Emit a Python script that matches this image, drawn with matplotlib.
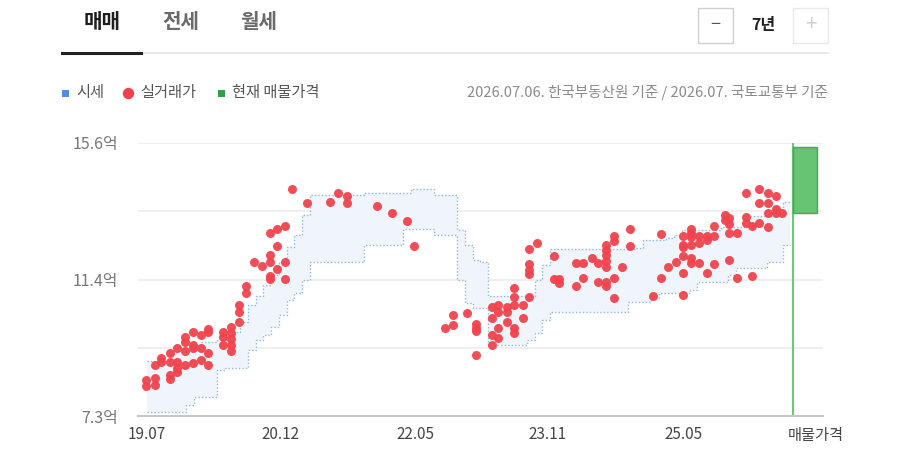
import numpy as np
import matplotlib
matplotlib.use('Agg')
import matplotlib.pyplot as plt
from matplotlib.lines import Line2D
from matplotlib.patches import Rectangle

plt.rcParams['font.family'] = ['Noto Sans CJK KR', 'DejaVu Sans']

# months counted from 2019.07
months = list(range(84))
sise_high = [8.97, 8.97, 8.97, 9.25, 9.34, 9.34, 9.46, 9.55, 9.55, 9.61,
             9.76, 9.85, 10.16, 10.67, 10.95, 11.28, 11.59, 11.98, 12.44, 12.80,
             13.41, 14.02, 14.02, 14.02, 14.02, 14.02, 14.02, 14.02, 14.08, 14.08,
             14.08, 14.08, 14.08, 14.08, 14.20, 14.20, 14.20, 14.02, 14.02, 14.02,
             12.95, 12.50, 12.04, 11.98, 10.95, 10.95, 10.95, 10.95, 10.95, 10.95,
             11.43, 11.89, 12.38, 12.38, 12.38, 12.38, 12.38, 12.38, 12.38, 12.38,
             12.38, 12.38, 12.38, 12.41, 12.65, 12.65, 12.65, 12.71, 12.80, 12.95,
             12.95, 12.95, 12.95, 12.95, 13.05, 13.05, 13.05, 13.38, 13.38, 13.38,
             13.38, 13.38, 13.81, 13.81]
sise_low = [7.42, 7.42, 7.42, 7.42, 7.42, 7.63, 7.88, 7.88, 7.88, 8.70,
            8.76, 8.76, 8.76, 9.31, 9.61, 9.76, 10.01, 10.37, 10.83, 11.04,
            11.43, 11.98, 11.98, 11.98, 11.98, 11.98, 11.98, 11.98, 12.50, 12.50,
            12.50, 12.50, 12.50, 12.99, 12.99, 12.99, 12.99, 12.80, 12.80, 12.80,
            11.43, 10.74, 10.58, 10.58, 9.46, 9.46, 9.46, 9.46, 9.46, 9.61,
            9.82, 10.22, 10.46, 10.46, 10.46, 10.46, 10.46, 10.46, 10.46, 10.46,
            10.46, 10.46, 10.77, 10.77, 10.77, 10.89, 11.04, 11.04, 11.04, 11.04,
            11.13, 11.37, 11.37, 11.37, 11.37, 11.59, 11.80, 11.80, 11.80, 11.80,
            11.98, 11.98, 12.50, 12.50]

deal_month = [-0.1, -0.1, 1.0, 1.0, 1.0, 1.8, 1.8, 3.0, 3.0, 3.0, 3.0,
              3.9, 3.9, 3.9, 3.9, 4.9, 4.9, 4.9, 4.9, 5.9, 5.9, 5.9, 5.9,
              7.0, 7.0, 7.0, 7.9, 7.9, 7.9, 7.9, 9.8, 9.8, 9.8,
              10.8, 10.8, 10.8, 10.8, 10.8, 11.9, 11.9, 11.9, 12.8, 12.8,
              13.8, 14.8, 15.9, 15.9, 15.9, 15.9, 15.9, 16.8, 16.8, 16.8,
              17.8, 17.8, 17.8, 18.7, 20.6, 23.6, 24.6, 25.8, 25.8,
              29.7, 31.6, 33.5, 34.5,
              38.5, 39.5, 39.5, 41.3, 42.5, 42.5, 42.5, 42.5,
              44.5, 44.5, 44.5, 44.5, 45.3, 45.3, 45.3, 45.3, 46.5, 46.5, 46.5,
              47.4, 47.4, 47.4, 47.4, 47.4, 48.5, 48.5,
              49.3, 49.3, 49.3, 49.3, 49.3, 50.3,
              52.5, 52.5, 53.2, 53.2, 55.4, 55.4, 56.3, 56.3, 57.4, 58.2, 58.2,
              59.2, 59.2, 59.2, 59.2, 59.2, 59.2, 59.2, 60.3, 60.3, 60.3, 60.3,
              61.3, 62.3, 62.3, 65.3, 66.3, 66.3, 67.2, 68.3,
              69.2, 69.2, 69.2, 69.2, 69.2, 69.2, 70.2, 70.2, 70.2, 70.2, 70.2, 70.2,
              71.2, 71.2, 71.2, 72.3, 72.3, 72.3, 73.2, 73.2, 73.2,
              74.5, 74.5, 75.1, 75.1, 75.1, 75.1, 76.1, 76.1,
              77.3, 77.3, 77.3, 78.1, 78.1, 79.0, 79.0, 79.0,
              80.1, 80.1, 80.1, 80.1, 81.2, 81.2, 81.2, 81.9]
deal_price = [8.39, 8.21, 8.46, 8.24, 8.85, 9.06, 8.94, 9.22, 8.94, 8.55, 8.42,
              9.37, 8.94, 8.76, 8.64, 9.70, 9.55, 9.28, 8.85, 9.85, 9.46, 9.37, 8.91,
              9.76, 9.37, 9.00, 9.94, 9.85, 9.22, 8.85, 9.85, 9.70, 9.46,
              10.01, 9.82, 9.64, 9.46, 9.28, 10.67, 10.46, 10.16, 11.25, 11.04,
              11.98, 11.86, 12.86, 12.19, 11.98, 11.56, 11.47, 12.99, 12.47, 11.77,
              13.08, 11.98, 11.47, 14.20, 13.78, 13.81, 14.08, 13.99, 13.78,
              13.68, 13.47, 13.23, 12.47,
              9.98, 10.37, 10.07, 10.43, 10.10, 9.98, 9.88, 9.15,
              10.61, 10.28, 9.76, 9.46, 10.67, 10.46, 9.98, 9.67, 10.61, 10.46, 10.16,
              11.19, 10.92, 10.67, 9.98, 9.82, 10.67, 10.28,
              12.38, 11.92, 11.74, 11.62, 10.92, 12.56,
              12.16, 11.47, 11.47, 11.34, 11.95, 11.25, 11.95, 11.50, 12.10, 11.95, 11.37,
              12.50, 12.35, 12.19, 12.01, 11.83, 11.37, 11.25, 12.77, 12.62, 11.50, 10.89,
              11.83, 12.99, 12.47, 10.95, 12.83, 11.50, 11.83, 11.98,
              12.77, 12.50, 12.44, 12.16, 11.65, 10.98, 12.99, 12.86, 12.74, 12.50, 12.10, 11.95,
              12.77, 12.56, 11.95, 12.77, 12.65, 11.65, 13.08, 12.77, 11.92,
              13.41, 13.26, 13.32, 13.14, 12.86, 12.04, 12.86, 11.50,
              14.08, 13.35, 13.17, 13.08, 11.56, 14.20, 13.78, 13.17,
              14.08, 13.78, 13.47, 13.05, 13.99, 13.59, 13.47, 13.47]

listing_low = 13.47
listing_high = 15.48
listing_month = 83.35

y_ticks = [7.3, 11.45, 15.6]
y_labels = ['7.3억', '11.4억', '15.6억']
x_tick_pos = [0, 17.2, 34.6, 51.7, 69.2]
x_labels = ['19.07', '20.12', '22.05', '23.11', '25.05']

W, H = 900, 450
fx = lambda px: px / W
fy = lambda py: 1 - py / H

fig = plt.figure(figsize=(9, 4.5), dpi=100)
ax = fig.add_axes([fx(138), fy(416), fx(823) - fx(138), fy(143) - fy(416)])

# grid
for g in np.linspace(7.3, 15.6, 5)[1:]:
    ax.axhline(g, color='#ececec', lw=1.2, zorder=0)

# 시세 band
ax.fill_between(months, sise_low, sise_high, step='post', color='#f0f5fc', lw=0, zorder=1)
ax.step(months, sise_high, where='post', color='#92b6e4', lw=1, ls=(0, (1, 1.5)), zorder=2)
ax.step(months, sise_low, where='post', color='#92b6e4', lw=1, ls=(0, (1, 1.5)), zorder=2)

# 실거래가
ax.scatter(deal_month, deal_price, s=42, color='#f0434d', lw=0, alpha=0.95, zorder=3)

# 현재 매물가격
ax.axvline(listing_month, color='#72c47e', lw=1.5, zorder=2)
ax.bar(listing_month, listing_high - listing_low, bottom=listing_low, width=3.1,
       align='edge', color='#66c473', edgecolor='#43a851', lw=1, zorder=3)

ax.set_xlim(-1.16, 87.2)
ax.set_ylim(7.3, 15.6)
for s in ['top', 'right', 'left']:
    ax.spines[s].set_visible(False)
ax.spines['bottom'].set_color('#c8c8c8')
ax.spines['bottom'].set_linewidth(1.5)
ax.set_yticks(y_ticks)
ax.set_yticklabels(y_labels, color='#777777', fontsize=11.5)
ax.set_xticks(x_tick_pos)
ax.set_xticklabels(x_labels, color='#444444', fontsize=11)
ax.tick_params(length=0, axis='y', pad=14)
ax.tick_params(length=0, axis='x', pad=7)
ax.text(86.3, 7.3 - 0.33, '매물가격', ha='center', va='top', fontsize=11, color='#444444')

# header tabs
fig.text(fx(102), fy(21), '매매', ha='center', va='center', fontsize=14.5, fontweight='bold', color='#1e1e1e')
fig.text(fx(181), fy(21), '전세', ha='center', va='center', fontsize=14.5, fontweight='bold', color='#6a6a6a')
fig.text(fx(259), fy(21), '월세', ha='center', va='center', fontsize=14.5, fontweight='bold', color='#6a6a6a')
fig.add_artist(Line2D([fx(141), fx(828)], [fy(53), fy(53)], color='#e4e4e4', lw=1.2))
fig.add_artist(Line2D([fx(62), fx(141)], [fy(52.5), fy(52.5)], color='#222222', lw=2.2))

# year control
fig.add_artist(Rectangle((fx(698), fy(43)), fx(35), 35 / H, transform=fig.transFigure,
                         fill=False, edgecolor='#d0d0d0', lw=1))
fig.add_artist(Rectangle((fx(793), fy(43)), fx(35), 35 / H, transform=fig.transFigure,
                         fill=False, edgecolor='#e8e8e8', lw=1))
fig.text(fx(715.5), fy(25), '−', ha='center', va='center', fontsize=13, color='#555555')
fig.text(fx(810.5), fy(25), '+', ha='center', va='center', fontsize=15, color='#d0d0d0')
fig.text(fx(763), fy(25), '7년', ha='center', va='center', fontsize=11.5, fontweight='bold', color='#222222')

# legend row
ly = fy(93)
fig.add_artist(Rectangle((fx(62), ly - 3.5 / H), fx(7), 7 / H, transform=fig.transFigure,
                         color='#4a8fe0', lw=0))
fig.text(fx(76), ly, '시세', ha='left', va='center', fontsize=11, color='#555555')
fig.add_artist(Line2D([fx(128)], [ly], marker='o', markersize=7.2, color='#f0434d', lw=0))
fig.text(fx(140), ly, '실거래가', ha='left', va='center', fontsize=11, color='#555555')
fig.add_artist(Rectangle((fx(218), ly - 3.5 / H), fx(7), 7 / H, transform=fig.transFigure,
                         color='#2ea04a', lw=0))
fig.text(fx(232), ly, '현재 매물가격', ha='left', va='center', fontsize=11, color='#555555')
fig.text(fx(828), ly, '2026.07.06. 한국부동산원 기준 / 2026.07. 국토교통부 기준',
         ha='right', va='center', fontsize=10.5, color='#8a8a8a')

fig.savefig('out.png', dpi=100)
